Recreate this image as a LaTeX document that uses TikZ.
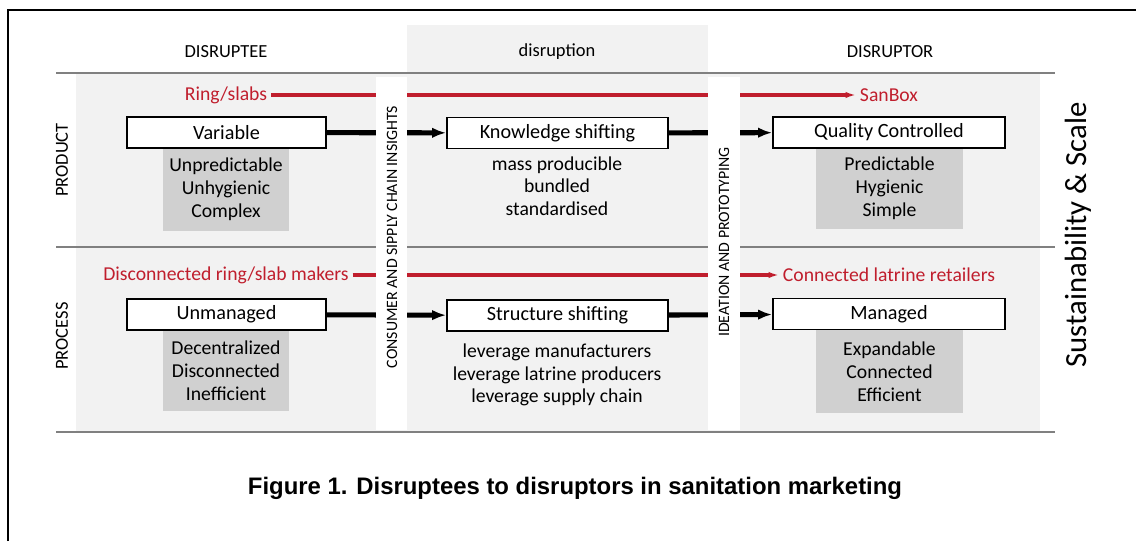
\documentclass[tikz,border=0pt]{standalone}
\usepackage{fontspec}
\setmainfont{Carlito}
\newfontfamily\captionfont{Liberation Sans}
\usetikzlibrary{arrows.meta}
\definecolor{bandgray}{RGB}{242,242,242}
\definecolor{tagfill}{RGB}{208,208,208}
\definecolor{rulegray}{RGB}{128,128,128}
\definecolor{flowred}{RGB}{192,30,45}
\begin{document}
\begin{tikzpicture}[x=0.02cm, y=-0.02cm,
  stagebox/.style={rectangle, draw, line width=1pt, fill=white, minimum height=0.62cm, inner sep=0pt, font=\fontsize{11.5}{13}\selectfont},
  tagbox/.style={rectangle, fill=tagfill, align=center, inner sep=0pt, font=\fontsize{11.2}{13}\selectfont},
  notes/.style={align=center, inner sep=0pt, font=\fontsize{11.2}{12.8}\selectfont},
  redlabel/.style={text=flowred, inner sep=2pt, font=\fontsize{11.2}{13}\selectfont},
  redflow/.style={draw=flowred, line width=2pt, -{Latex[length=6pt,width=3.6pt]}},
  shiftarrow/.style={line width=2.9pt, -{Latex[length=8pt,width=6pt]}},
  ruleline/.style={draw=rulegray, line width=1.1pt},
  colhead/.style={font=\fontsize{10.5}{12}\selectfont},
  stripnote/.style={rotate=90, inner sep=0pt, font=\fontsize{9}{10}\selectfont}]
\useasboundingbox (0,0) rectangle (1136,541);
\draw[line width=1.7pt] (8,541) -- (8,10) -- (1136,10);  % frame
\fill[bandgray] (76,73) rectangle (1040,432);
\fill[bandgray] (407,25) rectangle (708,73);  % disruption column head
\draw[ruleline] (56,73) -- (1055,73);
\draw[ruleline] (56,247) -- (1055,247);
\draw[ruleline] (56,432) -- (1055,432);
\node[colhead] (disruptee) at (226,52) {DISRUPTEE};
\node[colhead] (disruption) at (557,52) {disruption};
\node[colhead] (disruptor) at (890,52) {DISRUPTOR};
\node[colhead, rotate=90] (product) at (62,160) {PRODUCT};
\node[colhead, rotate=90] (process) at (62,336) {PROCESS};
% product row
\node[redlabel] (ring) at (226,95) {Ring/slabs};
\node[redlabel] (sanbox) at (889,95) {SanBox};
\node[tagbox, minimum width=2.52cm, minimum height=1.66cm] (vartag) at (226,189.5) {Unpredictable\\Unhygienic\\Complex};
\node[tagbox, minimum width=2.94cm, minimum height=1.64cm] (qualtag) at (889.5,188) {Predictable\\Hygienic\\Simple};
\node[stagebox, minimum width=3.98cm] (variable) at (226.5,132.5) {Variable};
\node[stagebox, minimum width=4.42cm] (knowledge) at (557.5,133) {Knowledge shifting};
\node[stagebox, minimum width=4.64cm] (quality) at (889,132.5) {Quality Controlled};
\node[notes] (knownotes) at (557,186) {mass producible\\bundled\\standardised};
% process row
\node[redlabel] (makers) at (226,275) {Disconnected ring/slab makers};
\node[redlabel] (retailers) at (889,275) {Connected latrine retailers};
\node[tagbox, minimum width=2.52cm, minimum height=1.62cm] (unmtag) at (226,370.5) {Decentralized\\Disconnected\\Inefficient};
\node[tagbox, minimum width=2.94cm, minimum height=1.66cm] (mantag) at (889.5,371.5) {Expandable\\Connected\\Efficient};
\node[stagebox, minimum width=3.98cm] (unmanaged) at (226.5,314.5) {Unmanaged};
\node[stagebox, minimum width=4.42cm] (structure) at (557.5,315.5) {Structure shifting};
\node[stagebox, minimum width=4.64cm] (managed) at (889,314) {Managed};
\node[notes] (structnotes) at (557,375) {leverage manufacturers\\leverage latrine producers\\leverage supply chain};
% flows
\draw[redflow] (ring) -- (sanbox);
\draw[redflow] (makers) -- (retailers);
\draw[shiftarrow] (variable) -- (knowledge);
\draw[shiftarrow] (knowledge) -- (quality);
\draw[shiftarrow] (unmanaged) -- (structure);
\draw[shiftarrow] (structure) -- (managed);
% white strips over the flows
\fill[white] (376,77) rectangle (407,430);
\fill[white] (708,77) rectangle (740,430);
\node[stripnote] (insights) at (392,237) {CONSUMER AND SIPPLY CHAIN INSIGHTS};
\node[stripnote] (ideation) at (724,242) {IDEATION AND PROTOTYPING};
\node[rotate=90, font=\fontsize{17.5}{20}\selectfont] (scale) at (1078,235) {Sustainability \& Scale};
\node[font=\captionfont\bfseries\fontsize{13.6}{16}\selectfont] (caption) at (575,488) {Figure 1. Disruptees to disruptors in sanitation marketing};
\end{tikzpicture}
\end{document}
